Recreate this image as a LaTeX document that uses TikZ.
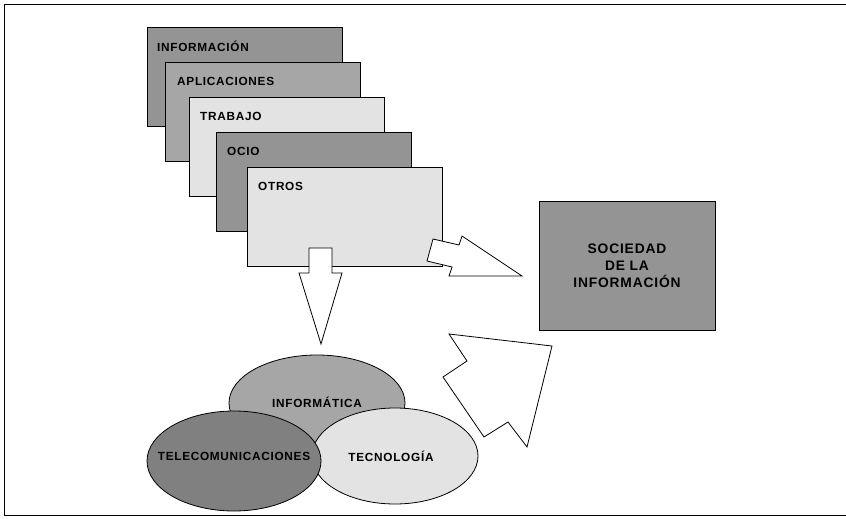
\documentclass[tikz,border=0pt]{standalone}
\usepackage{fontspec}
\setmainfont{Liberation Sans}
\newfontfamily\lblfont[LetterSpace=6]{Liberation Sans}
\usetikzlibrary{shapes.geometric}
\begin{document}
\begin{tikzpicture}[x=1pt,y=-1pt,
  card/.style={draw=black,line width=0.9pt,minimum width=195pt,minimum height=99pt,anchor=north west,inner sep=0pt},
  cardtext/.style={anchor=west,inner sep=0pt,font=\lblfont\fontsize{11.8}{13}\selectfont\bfseries},
  oval/.style={draw=black,line width=0.8pt,ellipse,inner sep=0pt},
  ovaltext/.style={inner sep=0pt,font=\lblfont\fontsize{11.8}{13}\selectfont\bfseries},
  blockarrow/.style={draw=black,line width=0.8pt,fill=white,line join=miter}]
\useasboundingbox (0,0) rectangle (846,519);
\definecolor{gdark}{gray}{0.58}
\definecolor{gmid}{gray}{0.65}
\definecolor{glight}{gray}{0.89}
\definecolor{gdeep}{gray}{0.50}
% frame
\draw[line width=0.9pt] (846,4) -- (4,4) -- (4,515) -- (846,515);
% stacked cards
\node[card,fill=gdark]  (r1) at (147,27)  {};
\node[cardtext] (t1) at (157,46)  {INFORMACIÓN};
\node[card,fill=gmid]   (r2) at (165,62)  {};
\node[cardtext] (t2) at (177,81)  {APLICACIONES};
\node[card,fill=glight] (r3) at (189,97)  {};
\node[cardtext] (t3) at (200,116) {TRABAJO};
\node[card,fill=gdark]  (r4) at (216,132) {};
\node[cardtext] (t4) at (227,151) {OCIO};
\node[card,fill=glight] (r5) at (247,167) {};
\node[cardtext] (t5) at (258,186) {OTROS};
% target box
\node[draw=black,line width=0.9pt,fill=gdark,minimum width=176pt,minimum height=129pt,inner sep=0pt,
      align=center,font=\lblfont\fontsize{13.8}{17}\selectfont\bfseries] (soc) at (627,265.5)
      {SOCIEDAD\\DE LA\\INFORMACIÓN};
% ellipses
\node[oval,fill=gmid,minimum width=176pt,minimum height=96pt] (inf) at (317,403) {};
\node[oval,fill=glight,minimum width=166pt,minimum height=96pt] (tec) at (395,456) {};
\node[oval,fill=gdeep,minimum width=174pt,minimum height=100pt] (tel) at (234,461) {};
\node[ovaltext] (tinf) at (317,402) {INFORMÁTICA};
\node[ovaltext] (ttec) at (391,456) {TECNOLOGÍA};
\node[ovaltext] (ttel) at (234,456) {TELECOMUNICACIONES};
% block arrows
\draw[blockarrow] (309,248) -- (332,248) -- (332,273) -- (342,273) -- (321,344)
   -- (299,273) -- (309,273) -- cycle;
\draw[blockarrow] (433,239) -- (459,245) -- (462,236) -- (522,276) -- (449,276)
   -- (452,267) -- (427,261) -- cycle;
\draw[blockarrow] (449,334) -- (552,346) -- (527,447) -- (508,422) -- (484,437)
   -- (443,377) -- (467,361) -- cycle;
\end{tikzpicture}
\end{document}
